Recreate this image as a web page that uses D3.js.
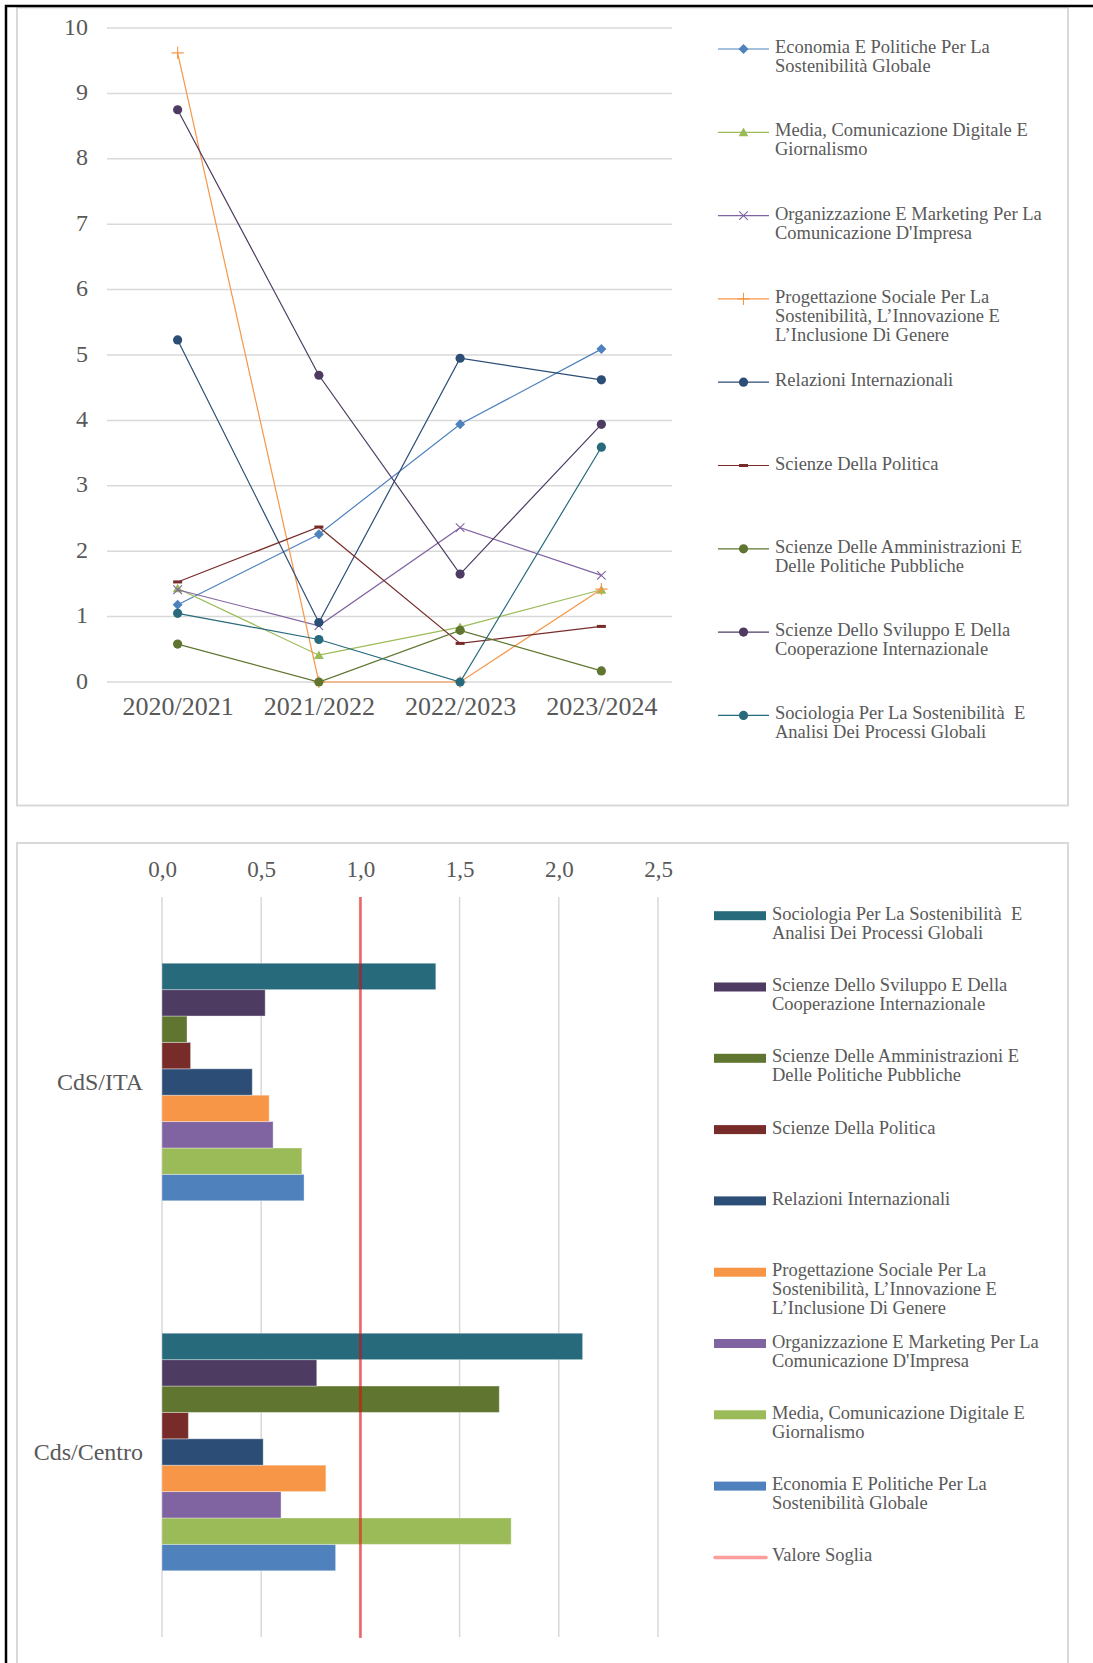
<!DOCTYPE html>
<html>
<head>
<meta charset="utf-8">
<script src="https://cdn.jsdelivr.net/npm/d3@7"></script>
<style>
  body { margin: 0; background: #fff; }
  text { font-family: "Liberation Serif", "Times New Roman", serif; fill: #595959; white-space: pre; }
</style>
</head>
<body>
<div id="chart"></div>
<script>

// ---- data ----
var years = ["2020/2021", "2021/2022", "2022/2023", "2023/2024"]

var courseNames = [
  "Economia E Politiche Per La\nSostenibilità Globale",
  "Media, Comunicazione Digitale E\nGiornalismo",
  "Organizzazione E Marketing Per La\nComunicazione D'Impresa",
  "Progettazione Sociale Per La\nSostenibilità, L’Innovazione E\nL’Inclusione Di Genere",
  "Relazioni Internazionali",
  "Scienze Della Politica",
  "Scienze Delle Amministrazioni E\nDelle Politiche Pubbliche",
  "Scienze Dello Sviluppo E Della\nCooperazione Internazionale",
  "Sociologia Per La Sostenibilità  E\nAnalisi Dei Processi Globali"
]

// line chart values per year
var economia        = [1.18, 2.26, 3.94, 5.09]
var media           = [1.43, 0.41, 0.84, 1.41]
var organizzazione  = [1.41, 0.86, 2.36, 1.63]
var progettazione   = [9.62, 0.00, 0.00, 1.42]
var relazioni       = [5.23, 0.91, 4.95, 4.62]
var politica        = [1.53, 2.37, 0.59, 0.85]
var amministrazioni = [0.58, 0.00, 0.79, 0.17]
var sviluppo        = [8.75, 4.69, 1.65, 3.94]
var sociologia      = [1.05, 0.65, 0.00, 3.59]

var lineTicks = [0, 1, 2, 3, 4, 5, 6, 7, 8, 9, 10]

// bar chart values, same course order as courseNames
var barGroups = ["CdS/ITA", "Cds/Centro"]
var ratioIta    = [0.716, 0.705, 0.56, 0.54, 0.455, 0.144, 0.126, 0.52, 1.38]
var ratioCentro = [0.875, 1.76, 0.60, 0.826, 0.51, 0.133, 1.70, 0.78, 2.12]
var thresholdValue = 1.0
var thresholdName = "Valore Soglia"
var barTicks = [0, 0.5, 1, 1.5, 2, 2.5]

// ---- styles ----
var serif = '"Liberation Serif", "Times New Roman", serif'
var colors = ["#4F81BD", "#9BBB59", "#8064A2", "#F79646", "#2C4D75", "#772C2A", "#5F7530", "#4D3B62", "#276A7C"]
var markers = ["diamond", "triangle", "times", "plus", "circle", "dash", "circle", "circle", "circle"]

var lineSeries = [economia, media, organizzazione, progettazione, relazioni, politica, amministrazioni, sviluppo, sociologia]

var svg = d3.select("#chart")
  .append("svg")
    .attr("width", 1093)
    .attr("height", 1663)

// frames
svg.append("rect")
  .attr("x", 17).attr("y", 7.5).attr("width", 1051).attr("height", 798)
  .attr("fill", "#fff").attr("stroke", "#d9d9d9").attr("stroke-width", 2)
svg.append("rect")
  .attr("x", 17).attr("y", 843).attr("width", 1051).attr("height", 900)
  .attr("fill", "#fff").attr("stroke", "#d9d9d9").attr("stroke-width", 2)
svg.append("path")
  .attr("d", "M6,1663V6H1093")
  .attr("fill", "none").attr("stroke", "#000").attr("stroke-width", 2.5)

function drawMarker (g, type, color, cx, cy) {
  if (type == "circle") {
    g.append("circle").attr("cx", cx).attr("cy", cy).attr("r", 4.6).attr("fill", color)
  } else if (type == "diamond") {
    g.append("path").attr("d", d3.symbol(d3.symbolSquare, 50)())
      .attr("transform", "translate(" + cx + "," + cy + ") rotate(45)").attr("fill", color)
  } else if (type == "triangle") {
    g.append("path").attr("d", d3.symbol(d3.symbolTriangle, 42)())
      .attr("transform", "translate(" + cx + "," + (cy + 1) + ")").attr("fill", color)
  } else if (type == "times") {
    g.append("path").attr("d", d3.symbol(d3.symbolTimes, 50)())
      .attr("transform", "translate(" + cx + "," + cy + ")")
      .attr("fill", "none").attr("stroke", color).attr("stroke-width", 1.1)
  } else if (type == "plus") {
    g.append("path").attr("d", d3.symbol(d3.symbolPlus, 50)())
      .attr("transform", "translate(" + cx + "," + cy + ")")
      .attr("fill", "none").attr("stroke", color).attr("stroke-width", 1.1)
  } else if (type == "dash") {
    g.append("rect").attr("x", cx - 4.5).attr("y", cy - 1.5).attr("width", 9).attr("height", 3).attr("fill", color)
  }
}

function styleAxis (g, size) {
  g.attr("font-family", serif)
  g.select(".domain").remove()
  g.selectAll("text")
    .style("font-family", serif)
    .style("font-size", size)
    .style("fill", "#595959")
}

// ================= line chart =================
var x = d3.scalePoint().domain(years).range([107, 672]).padding(0.5)
var y = d3.scaleLinear().domain([0, 10]).range([682, 28])

svg.append("g")
  .selectAll("line")
  .data(lineTicks)
  .join("line")
    .attr("x1", 107).attr("x2", 672)
    .attr("y1", function(d) { return y(d) }).attr("y2", function(d) { return y(d) })
    .attr("stroke", "#d9d9d9").attr("stroke-width", 1.5)

var yAxis = svg.append("g")
  .attr("transform", "translate(107,0)")
  .call(d3.axisLeft(y).tickValues(lineTicks).tickSize(0).tickPadding(19))
styleAxis(yAxis, "24px")
yAxis.selectAll("text").attr("dy", "0.25em")

var xAxis = svg.append("g")
  .attr("transform", "translate(0,682)")
  .call(d3.axisBottom(x).tickSize(0).tickPadding(15))
styleAxis(xAxis, "26px")

var line = d3.line()
  .x(function(d, i) { return x(years[i]) })
  .y(function(d) { return y(d) })

lineSeries.forEach(function(values, s) {
  var g = svg.append("g")
  g.append("path")
    .attr("d", line(values))
    .attr("fill", "none")
    .attr("stroke", colors[s])
    .attr("stroke-width", 1.2)
  values.forEach(function(v, i) {
    drawMarker(g, markers[s], colors[s], x(years[i]), y(v))
  })
})

// legend (line chart)
courseNames.forEach(function(name, s) {
  var ly = 49 + s * 83.3
  var g = svg.append("g")
  g.append("line").attr("x1", 718).attr("x2", 769).attr("y1", ly).attr("y2", ly)
    .attr("stroke", colors[s]).attr("stroke-width", 1.2)
  drawMarker(g, markers[s], colors[s], 743.5, ly)
  var t = g.append("text").attr("x", 775).attr("y", ly).style("font-size", "18.5px")
  name.split("\n").forEach(function(part, k) {
    t.append("tspan").attr("x", 775).attr("dy", k == 0 ? "0.22em" : "19px").text(part)
  })
})

// ================= bar chart =================
var bx = d3.scaleLinear().domain([0, 2.5]).range([162, 658])
var by = d3.scaleBand().domain(barGroups).range([897, 1637])
var topDown = d3.range(courseNames.length).reverse()
var byInner = d3.scaleBand().domain(topDown).range([0, by.bandwidth()]).paddingOuter(2.51)

svg.append("g")
  .selectAll("line")
  .data(barTicks)
  .join("line")
    .attr("x1", function(d) { return bx(d) }).attr("x2", function(d) { return bx(d) })
    .attr("y1", 897).attr("y2", 1637)
    .attr("stroke", "#d9d9d9").attr("stroke-width", 1.5)

var bxAxis = svg.append("g")
  .attr("transform", "translate(0,897)")
  .call(d3.axisTop(bx).tickValues(barTicks).tickSize(0).tickPadding(20)
    .tickFormat(function(d) { return d3.format(".1f")(d).replace(".", ",") }))
styleAxis(bxAxis, "23px")

var byAxis = svg.append("g")
  .attr("transform", "translate(162,0)")
  .call(d3.axisLeft(by).tickSize(0).tickPadding(19))
styleAxis(byAxis, "24px")

var groupValues = [ratioIta, ratioCentro]
barGroups.forEach(function(grp, gi) {
  svg.append("g")
    .selectAll("rect")
    .data(groupValues[gi])
    .join("rect")
      .attr("x", bx(0))
      .attr("y", function(d, i) { return by(grp) + byInner(i) })
      .attr("width", function(d) { return bx(d) - bx(0) })
      .attr("height", byInner.bandwidth())
      .attr("fill", function(d, i) { return colors[i] })
      .attr("stroke", "#fff").attr("stroke-opacity", 0.35).attr("stroke-width", 1)
})

svg.append("line")
  .attr("x1", bx(thresholdValue)).attr("x2", bx(thresholdValue))
  .attr("y1", 897).attr("y2", 1638)
  .attr("stroke", "rgb(230,0,0)").attr("stroke-opacity", 0.5).attr("stroke-width", 3)

// legend (bar chart)
var barLegend = topDown.map(function(i) { return { name: courseNames[i], color: colors[i] } })
barLegend.forEach(function(item, k) {
  var ly = 915.7 + k * 71.3
  svg.append("rect").attr("x", 714).attr("y", ly - 4.5).attr("width", 52).attr("height", 9).attr("fill", item.color)
  var t = svg.append("text").attr("x", 772).attr("y", ly).style("font-size", "18.5px")
  item.name.split("\n").forEach(function(part, j) {
    t.append("tspan").attr("x", 772).attr("dy", j == 0 ? "0.22em" : "19px").text(part)
  })
})
var sy = 915.7 + barLegend.length * 71.3
svg.append("line").attr("x1", 715).attr("x2", 766).attr("y1", sy).attr("y2", sy)
  .attr("stroke", "#ff9c9c").attr("stroke-width", 3.5).attr("stroke-linecap", "round")
svg.append("text").attr("x", 772).attr("y", sy).attr("dy", "0.22em").style("font-size", "18.5px").text(thresholdName)

</script>
</body>
</html>
